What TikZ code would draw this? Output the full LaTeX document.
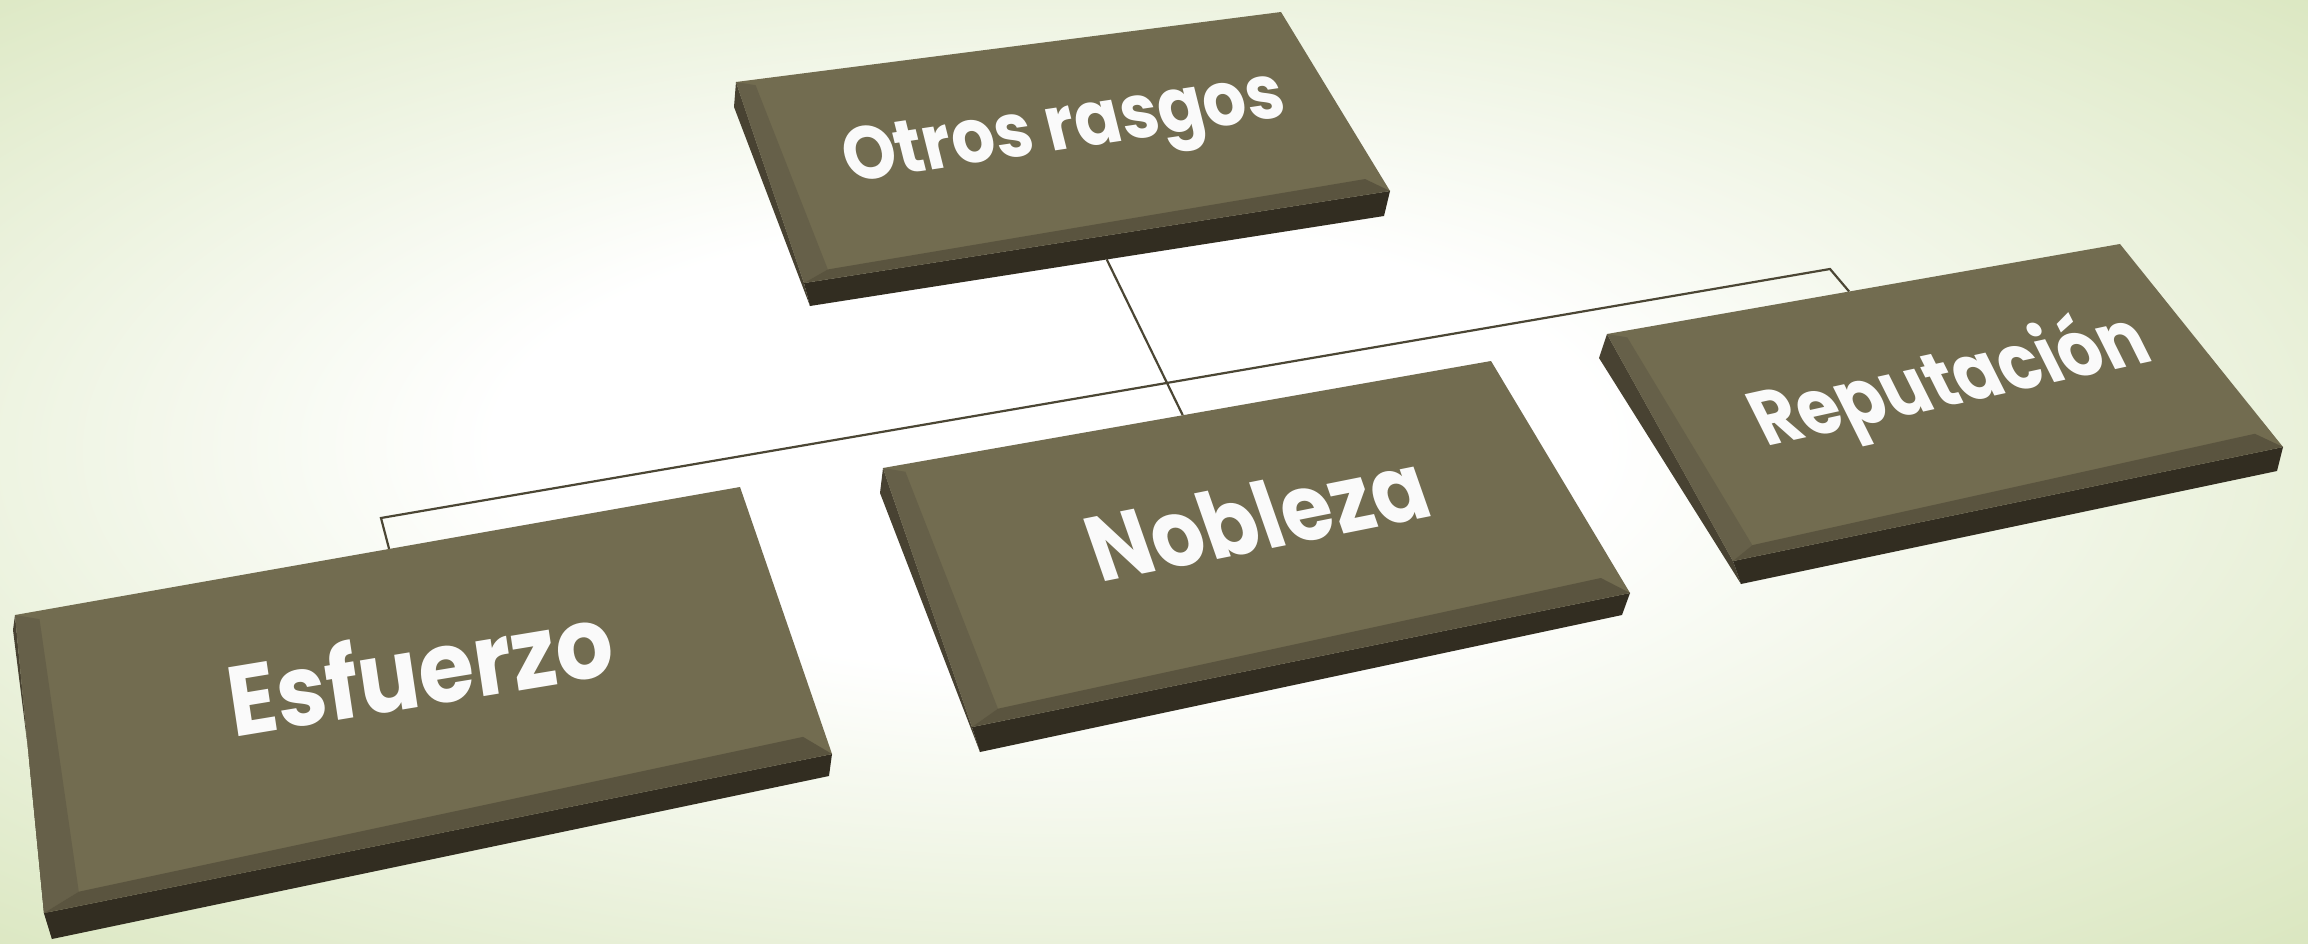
\documentclass[tikz,border=0pt]{standalone}
\usepackage{fontspec}
\newfontfamily\pop{Poppins}
\newcommand\popw{\bfseries}
\usetikzlibrary{calc}
\definecolor{face}{RGB}{114,108,80}
\definecolor{bevB}{RGB}{90,84,63}
\definecolor{bevL}{RGB}{102,96,73}
\definecolor{side}{RGB}{50,45,33}
\definecolor{sideL}{RGB}{72,66,50}
\definecolor{conn}{RGB}{75,70,52}
\definecolor{bgout}{RGB}{216,229,188}
\definecolor{txt}{RGB}{250,250,250}
\pgfdeclareradialshading{bgshade}{\pgfpoint{-3bp}{2bp}}{color(0bp)=(white); color(12bp)=(white); color(38bp)=(bgout); color(50bp)=(bgout)}
\tikzset{
  conn/.style={draw=conn, line width=2.2pt},
  lbl/.style={inner sep=0pt, text=txt},
}
\newlength\mylen
\newcommand\fitfont[2]{\settowidth\mylen{\pop\popw\fontsize{10pt}{12pt}\selectfont #2}%
  \pgfmathsetmacro\fs{10*#1/\mylen}%
  \pop\popw\fontsize{\fs pt}{\fs pt}\selectfont #2}
% slab: prefix
\newcommand\myslab[1]{%
  \fill[sideL] (#1A)--(#1Ap)--(#1Dp)--(#1D)--cycle;
  \fill[side] (#1D)--(#1Dp)--(#1Cp)--(#1C)--cycle;
  \fill[face] (#1A)--(#1B)--(#1C)--(#1D)--cycle;
  \coordinate (#1D1) at ($(#1D)!0.05!(#1B)$);
  \coordinate (#1C1) at ($(#1C)!0.05!(#1B)!0.03!(#1A)$);
  \coordinate (#1A1) at ($(#1A)!0.03!(#1C)$);
  \fill[bevL] (#1A)--(#1D)--(#1D1)--(#1A1)--cycle;
  \fill[bevB] (#1D)--(#1C)--(#1C1)--(#1D1)--cycle;
}
% position, baseline slope, backslant, width, text, name (vertical stretch 1.1)
\newcommand\lab[6]{%
  \pgfmathsetmacro\kk{-1.1*#3}%
  \node[lbl, cm={1,#2,\kk,1.1,(0,0)}] (#6) at (#1) {\fitfont{#4}{#5}};
}
\begin{document}
\begin{tikzpicture}[x=1pt,y=-1pt]
\useasboundingbox (0,0) rectangle (2308,944);
\shade[shading=bgshade] (0,0) rectangle (2308,944);

% Top box
\coordinate (TA) at (736,82);   \coordinate (TB) at (1281,12);
\coordinate (TC) at (1390,191); \coordinate (TD) at (804,283);
\coordinate (TAp) at (734,107); \coordinate (TCp) at (1384,216);
\coordinate (TDp) at (810,306);
% Esfuerzo
\coordinate (EA) at (15,615);   \coordinate (EB) at (740,487);
\coordinate (EC) at (832,754);  \coordinate (ED) at (44,913);
\coordinate (EAp) at (13,630);  \coordinate (ECp) at (829,776);
\coordinate (EDp) at (52,939);
% Nobleza
\coordinate (NA) at (883,468);  \coordinate (NB) at (1491,361);
\coordinate (NC) at (1630,593); \coordinate (ND) at (972,727);
\coordinate (NAp) at (880,493); \coordinate (NCp) at (1622,615);
\coordinate (NDp) at (980,752);
% Reputacion
\coordinate (RA) at (1607,334); \coordinate (RB) at (2120,244);
\coordinate (RC) at (2283,447); \coordinate (RD) at (1733,561);
\coordinate (RAp) at (1599,358);\coordinate (RCp) at (2277,471);
\coordinate (RDp) at (1741,584);

% connectors
\coordinate (stemTop) at ($(TDp)!0.517!(TCp)$);
\coordinate (stemBot) at ($(NA)!0.493!(NB)$);
\coordinate (barL) at (381,518);
\coordinate (barR) at (1830,269);
\coordinate (dropL) at ($(EA)!0.516!(EB)$);
\coordinate (dropR) at ($(RA)!0.472!(RB)$);
\draw[conn] (dropL) -- (barL) -- (barR) -- (dropR);
\draw[conn] (stemTop) -- (stemBot);

\myslab{T}
\myslab{E}
\myslab{N}
\myslab{R}

\lab{1065,133}{0.15}{0.25}{440}{Otros rasgos}{lt}
\lab{420,668}{0.165}{0.15}{384}{Esfuerzo}{le}
\lab{1257,517}{0.2}{0.35}{335}{Nobleza}{ln}
\lab{1951,383}{0.22}{0.5}{390}{Reputación}{lr}
\end{tikzpicture}
\end{document}
